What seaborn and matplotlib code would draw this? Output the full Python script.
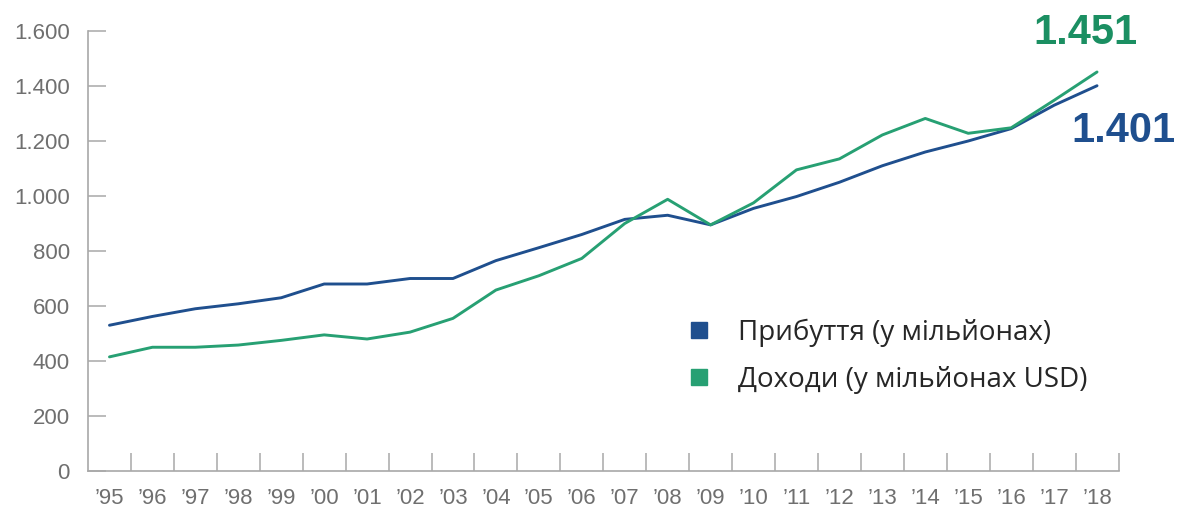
import matplotlib
matplotlib.use("Agg")
import matplotlib.pyplot as plt
from matplotlib.lines import Line2D
from matplotlib.ticker import FixedLocator, FuncFormatter
import seaborn as sns
import pandas as pd

# Years shown on the x axis
years = ["95", "96", "97", "98", "99", "00", "01", "02", "03", "04", "05", "06",
         "07", "08", "09", "10", "11", "12", "13", "14", "15", "16", "17", "18"]

# International tourist arrivals (millions)
arrivals = [530, 562, 590, 608, 630, 680, 680, 700, 700, 765, 812, 860,
            915, 930, 895, 955, 998, 1050, 1110, 1160, 1200, 1245, 1330, 1401]

# International tourism receipts (USD millions)
receipts = [415, 450, 450, 458, 475, 495, 480, 505, 555, 658, 710, 773,
            900, 988, 895, 975, 1095, 1135, 1222, 1282, 1228, 1248, 1348, 1451]

series_names = ["Прибуття (у мільйонах)", "Доходи (у мільйонах USD)"]
y_ticks = [0, 200, 400, 600, 800, 1000, 1200, 1400, 1600]

BLUE = "#1f4f8e"
GREEN = "#27a073"
GREEN_TEXT = "#1b8f62"
AXIS_GREY = "#a8a8a8"
TICK_TEXT = "#6f6f6f"

df = pd.DataFrame({
    "idx": list(range(len(years))) * 2,
    "value": arrivals + receipts,
    "series": [series_names[0]] * len(years) + [series_names[1]] * len(years),
})

sns.set_theme(style="white")
plt.rcParams["font.family"] = ["Liberation Sans", "DejaVu Sans"]

W, H = 1189, 515
fig = plt.figure(figsize=(W / 100, H / 100), dpi=100)
ax = fig.add_axes([88 / W, (H - 471) / H, (1118.5 - 88) / W, (471 - 31) / H])

sns.lineplot(data=df, x="idx", y="value", hue="series",
             palette={series_names[0]: BLUE, series_names[1]: GREEN},
             linewidth=2.1, legend=False, ax=ax)

ax.set_xlim(-0.5, len(years) - 0.5)
ax.set_ylim(0, 1600)
ax.set_xlabel("")
ax.set_ylabel("")

for side in ("top", "right"):
    ax.spines[side].set_visible(False)
for side in ("left", "bottom"):
    ax.spines[side].set_color(AXIS_GREY)
    ax.spines[side].set_linewidth(1.2)

# y axis: short inward ticks, dotted thousands separator
ax.yaxis.set_major_locator(FixedLocator(y_ticks))
ax.yaxis.set_major_formatter(FuncFormatter(lambda v, p: f"{int(v):,}".replace(",", ".")))
ax.tick_params(axis="y", which="major", left=True, direction="in", length=13, width=1.1,
               color=AXIS_GREY, pad=13, labelsize=16, labelcolor=TICK_TEXT)

# x axis: labels at the years, tick marks between them
ax.set_xticks(range(len(years)))
ax.set_xticklabels(["\u2019" + y for y in years])
ax.xaxis.set_minor_locator(FixedLocator([i + 0.5 for i in range(len(years))]))
ax.tick_params(axis="x", which="major", bottom=True, length=0, pad=12, labelsize=16,
               labelcolor=TICK_TEXT)
ax.tick_params(axis="x", which="minor", bottom=True, direction="in", length=13, width=1.1,
               color=AXIS_GREY)

# end-of-series value labels
last = len(years) - 1
ax.annotate(f"{receipts[-1]:,}".replace(",", "."), xy=(last, receipts[-1]),
            xytext=(-8.6, 28), textcoords="offset points", ha="center", va="center",
            fontsize=30, fontweight="bold", color=GREEN_TEXT, annotation_clip=False)
ax.annotate(f"{arrivals[-1]:,}".replace(",", "."), xy=(last, arrivals[-1]),
            xytext=(18.7, -32.4), textcoords="offset points", ha="center", va="center",
            fontsize=30, fontweight="bold", color=BLUE, annotation_clip=False)

handles = [Line2D([], [], linestyle="none", marker="s", markersize=11,
                  markerfacecolor=c, markeredgecolor=c) for c in (BLUE, GREEN)]
ax.legend(handles, series_names, loc="center left",
          bbox_to_anchor=(663 / W, 1 - 356 / H), bbox_transform=fig.transFigure,
          frameon=False, handlelength=0.8, handletextpad=1.0, labelspacing=0.68,
          prop={"family": "Open Sans", "size": 20})

fig.savefig("out.png", dpi=100)
